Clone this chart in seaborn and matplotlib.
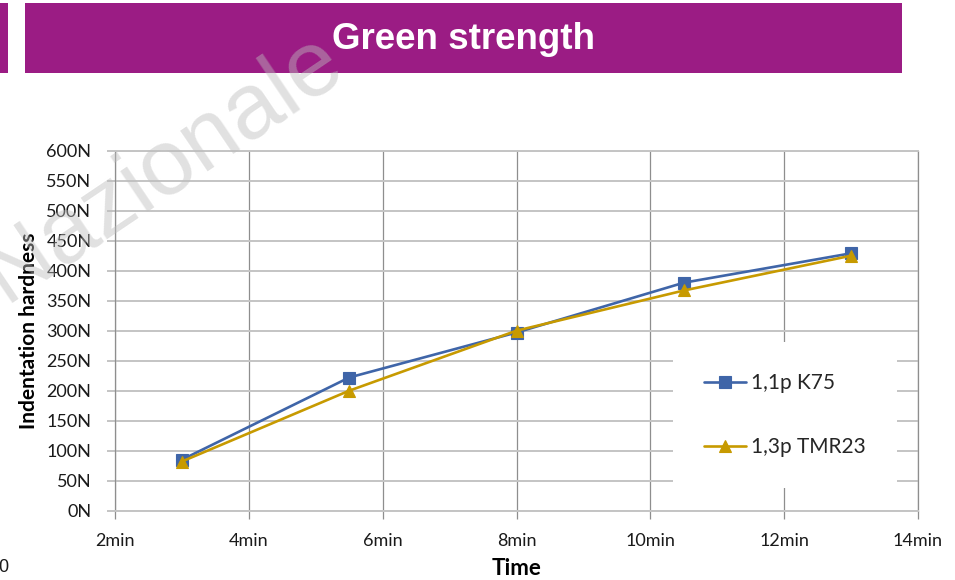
import matplotlib
matplotlib.use("Agg")
import matplotlib.pyplot as plt
from matplotlib.patches import Rectangle
import seaborn as sns
import pandas as pd

# ---- data ----
times = [3, 5.5, 8, 10.5, 13]
k75 = [85, 222, 297, 380, 429]
tmr23 = [82, 200, 300, 367, 425]
series_names = ["1,1p K75", "1,3p TMR23"]
x_ticks = [2, 4, 6, 8, 10, 12, 14]
y_ticks = list(range(0, 601, 50))
title = "Green strength"
x_label = "Time"
y_label = "Indentation hardness"
watermark = "Nazionale"

df = pd.DataFrame({
    "Time": times * 2,
    "Force": k75 + tmr23,
    "Series": [series_names[0]] * len(times) + [series_names[1]] * len(times),
})

sns.set_theme(style="white")
plt.rcParams["font.family"] = ["Lato", "DejaVu Sans"]

W, H = 955, 580
fig = plt.figure(figsize=(W / 100, H / 100), dpi=100)
fig.patch.set_facecolor("white")

# header banner
purple = "#9B1C84"
fig.patches.append(Rectangle((25 / W, 1 - 73 / H), (902 - 25) / W, 70 / H,
                             transform=fig.transFigure, facecolor=purple,
                             edgecolor="none", zorder=0))
fig.patches.append(Rectangle((0, 1 - 73 / H), 8 / W, 70 / H,
                             transform=fig.transFigure, facecolor=purple,
                             edgecolor="none", zorder=0))
fig.text(463.5 / W, 1 - 39.5 / H, title, ha="center", va="center", color="white",
         fontsize=26.5, fontweight="bold", family=["Liberation Sans", "DejaVu Sans"])

# axes
ax_left, ax_right = 115, 918
ax_top, ax_bottom = 150.7, 510.7
ax = fig.add_axes([ax_left / W, 1 - ax_bottom / H, (ax_right - ax_left) / W,
                   (ax_bottom - ax_top) / H])

palette = {series_names[0]: "#3F65A8", series_names[1]: "#C79A00"}
markers = {series_names[0]: "s", series_names[1]: "^"}
sns.lineplot(data=df, x="Time", y="Force", hue="Series", style="Series",
             palette=palette, markers=markers, dashes=False, ax=ax,
             linewidth=1.9, markersize=8, hue_order=series_names,
             style_order=series_names)
for ln in ax.lines:
    ln.set_markeredgecolor(ln.get_color())
    ln.set_markeredgewidth(0.8)
    ln.set_zorder(3)

ax.set_xlim(2, 14)
ax.set_ylim(0, 600)
ax.set_xticks(x_ticks)
ax.set_xticklabels([f"{t}min" for t in x_ticks])
ax.set_yticks(y_ticks)
ax.set_yticklabels([f"{v}N" for v in y_ticks])

vgrid = "#8E8E8E"
hgrid = "#C4C4C4"
ax.xaxis.grid(True, color=vgrid, linewidth=0.9)
ax.yaxis.grid(True, color=hgrid, linewidth=1.4)
ax.set_axisbelow(True)
for side in ["left", "right"]:
    ax.spines[side].set_visible(True)
    ax.spines[side].set_color(vgrid)
    ax.spines[side].set_linewidth(0.9)
for side in ["top", "bottom"]:
    ax.spines[side].set_visible(True)
    ax.spines[side].set_color(hgrid)
    ax.spines[side].set_linewidth(1.4)

ax.tick_params(axis="x", which="major", direction="out", length=6, width=0.9,
               color=vgrid, pad=10, labelsize=13, labelcolor="#1a1a1a",
               bottom=True)
ax.tick_params(axis="y", which="major", direction="out", length=6, width=1.4,
               color=hgrid, pad=11, labelsize=13, labelcolor="#1a1a1a",
               left=True)

ax.set_xlabel(x_label, fontsize=16, fontweight="bold", color="black")
ax.xaxis.set_label_coords(0.5, -(558 - ax_bottom) / (ax_bottom - ax_top))
ax.set_ylabel(y_label, fontsize=15, fontweight="bold", color="black")
ax.yaxis.set_label_coords(-(ax_left - 39) / (ax_right - ax_left), 0.5)

handles, labels = ax.get_legend_handles_labels()
leg = ax.legend(handles, labels, loc="upper left",
                bbox_to_anchor=(673 / W, 1 - 342 / H),
                bbox_transform=fig.transFigure, borderaxespad=0,
                frameon=True, facecolor="white", edgecolor="none",
                framealpha=1, fancybox=False, fontsize=15, borderpad=1.5,
                labelspacing=2.1, handlelength=2.0, handletextpad=0.25)
leg.set_zorder(5)
for h in leg.legend_handles:
    h.set_markeredgecolor(h.get_color())

# watermark
fig.text(163 / W, 1 - 168 / H, watermark, ha="center", va="center",
         rotation=34, fontsize=67, color="#BDBDBD", alpha=0.45,
         family=["Liberation Sans", "DejaVu Sans"], zorder=10)

# stray footer character at left edge
fig.text(-2 / W, 1 - 567 / H, "0", ha="left", va="center", fontsize=13,
         color="#1a1a1a", family=["Liberation Sans", "DejaVu Sans"])

fig.savefig("out.png", dpi=100)
